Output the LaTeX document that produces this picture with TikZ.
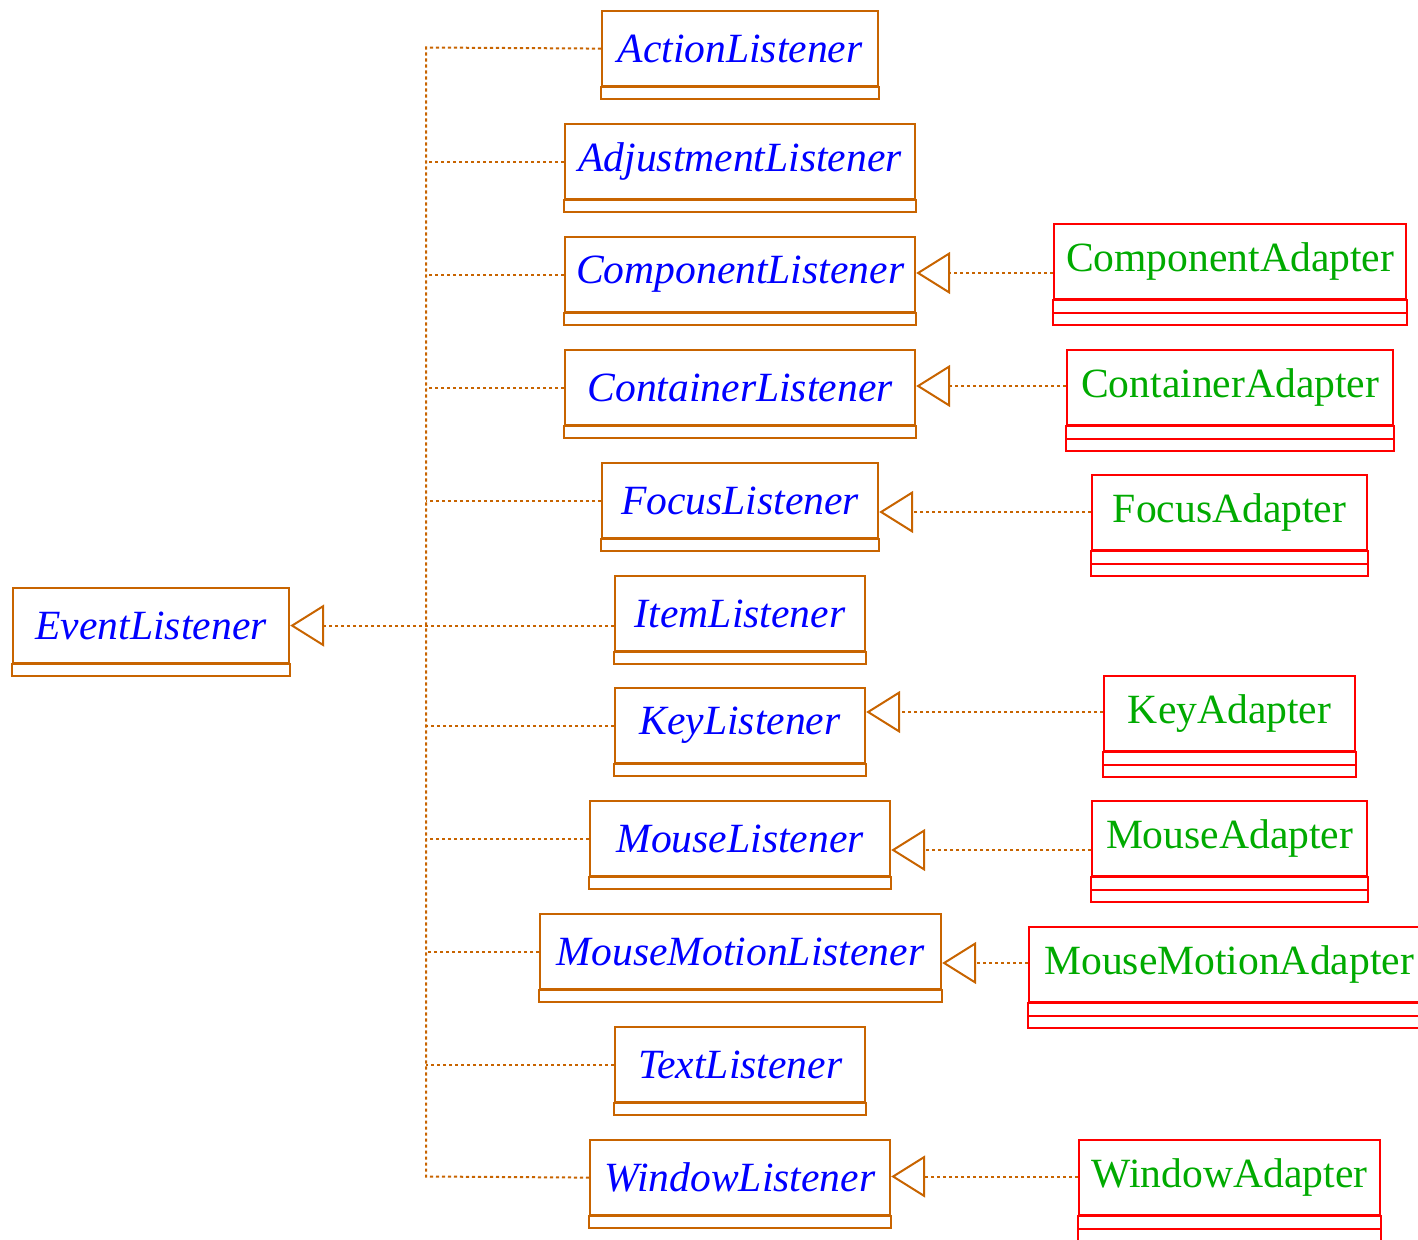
\documentclass[tikz,border=0pt]{standalone}
\usepackage{fontspec}
\setmainfont{Liberation Serif}
\usetikzlibrary{arrows.meta}
\definecolor{ifcorange}{RGB}{200,100,0}
\definecolor{adgreen}{RGB}{0,170,0}
\definecolor{adred}{RGB}{255,0,0}
\newcommand\palit{\fontsize{20.8}{24}\selectfont\itshape}
\newcommand\timesrm{\fontsize{20.8}{24}\selectfont\upshape}
\tikzset{
  ifcbox/.style={draw=ifcorange, line width=1.1pt, inner sep=0pt, minimum height=37.5pt,
    text=blue, font=\palit, anchor=north west},
  ifcline/.style={draw=ifcorange, line width=1.1pt},
  adbox/.style={draw=adred, line width=1.1pt, inner sep=0pt, minimum height=37.5pt,
    text=adgreen, font=\timesrm, anchor=north west},
  adline/.style={draw=adred, line width=1.1pt},
  conn/.style={draw=ifcorange, line width=1pt, dash pattern=on 1.6pt off 1.4pt},
  realize/.style={conn, -{Triangle[open, length=17pt, width=21pt, line width=1pt]}}
}
\newcommand\ifcnode[5]{%
  \node[ifcbox, minimum width={(#3-#2)*0.5pt}] (#1) at (#2,#4) {#5};
  \draw[ifcline] (#1.south west) rectangle ([yshift=-6pt]#1.south east);}
\newcommand\adnode[5]{%
  \node[adbox, minimum width={(#3-#2)*0.5pt}] (#1) at (#2,#4) {#5};
  \draw[adline] (#1.south west) rectangle ([yshift=-6.25pt]#1.south east);
  \draw[adline] ([yshift=-6.25pt]#1.south west) rectangle ([yshift=-12.5pt]#1.south east);}
\begin{document}
\begin{tikzpicture}[x=0.5pt, y=-0.5pt]
\useasboundingbox (0,0) rectangle (1418,1240);
% interfaces
\ifcnode{ev}{12}{288}{587}{EventListener}
\ifcnode{al}{601}{877}{10}{ActionListener}
\ifcnode{adj}{564}{914}{123}{AdjustmentListener}
\ifcnode{comp}{564}{914}{236}{ComponentListener}
\ifcnode{cont}{564}{914}{349}{ContainerListener}
\ifcnode{foc}{601}{877}{462}{FocusListener}
\ifcnode{item}{614}{864}{575}{ItemListener}
\ifcnode{key}{614}{864}{687}{KeyListener}
\ifcnode{mouse}{589}{889}{800}{MouseListener}
\ifcnode{mm}{539}{940}{913}{MouseMotionListener}
\ifcnode{text}{614}{864}{1026}{TextListener}
\ifcnode{win}{589}{889}{1139}{WindowListener}
% adapters
\adnode{ca}{1053}{1405}{223}{ComponentAdapter}
\adnode{cta}{1066}{1392}{349}{ContainerAdapter}
\adnode{fa}{1091}{1366}{474}{FocusAdapter}
\adnode{ka}{1103}{1354}{675}{KeyAdapter}
\adnode{ma}{1091}{1366}{800}{MouseAdapter}
\adnode{mma}{1028}{1428}{926}{MouseMotionAdapter}
\adnode{wa}{1078}{1379}{1139}{WindowAdapter}
% trunk
\coordinate (trunktop) at (426,47.5);
\coordinate (trunkbot) at (426,1176.5);
\draw[conn] (al.west) -- (trunktop) -- (trunkbot) -- (win.west);
\foreach \n in {adj,comp,cont,foc,key,mouse,mm,text}
  \draw[conn] (\n.west) -- (\n.west -| trunktop);
\draw[realize] (item.west |- ev.east) -- (ev.east);
% adapter realizations
\coordinate (y1) at (0,273);
\coordinate (y2) at (0,386);
\coordinate (y3) at (0,512);
\coordinate (y4) at (0,712);
\coordinate (y5) at (0,850);
\coordinate (y6) at (0,963);
\coordinate (y7) at (0,1176.5);
\draw[realize] (ca.west |- y1) -- (comp.east |- y1);
\draw[realize] (cta.west |- y2) -- (cont.east |- y2);
\draw[realize] (fa.west |- y3) -- (foc.east |- y3);
\draw[realize] (ka.west |- y4) -- (key.east |- y4);
\draw[realize] (ma.west |- y5) -- (mouse.east |- y5);
\draw[realize] (mma.west |- y6) -- (mm.east |- y6);
\draw[realize] (wa.west |- y7) -- (win.east |- y7);
\end{tikzpicture}
\end{document}
